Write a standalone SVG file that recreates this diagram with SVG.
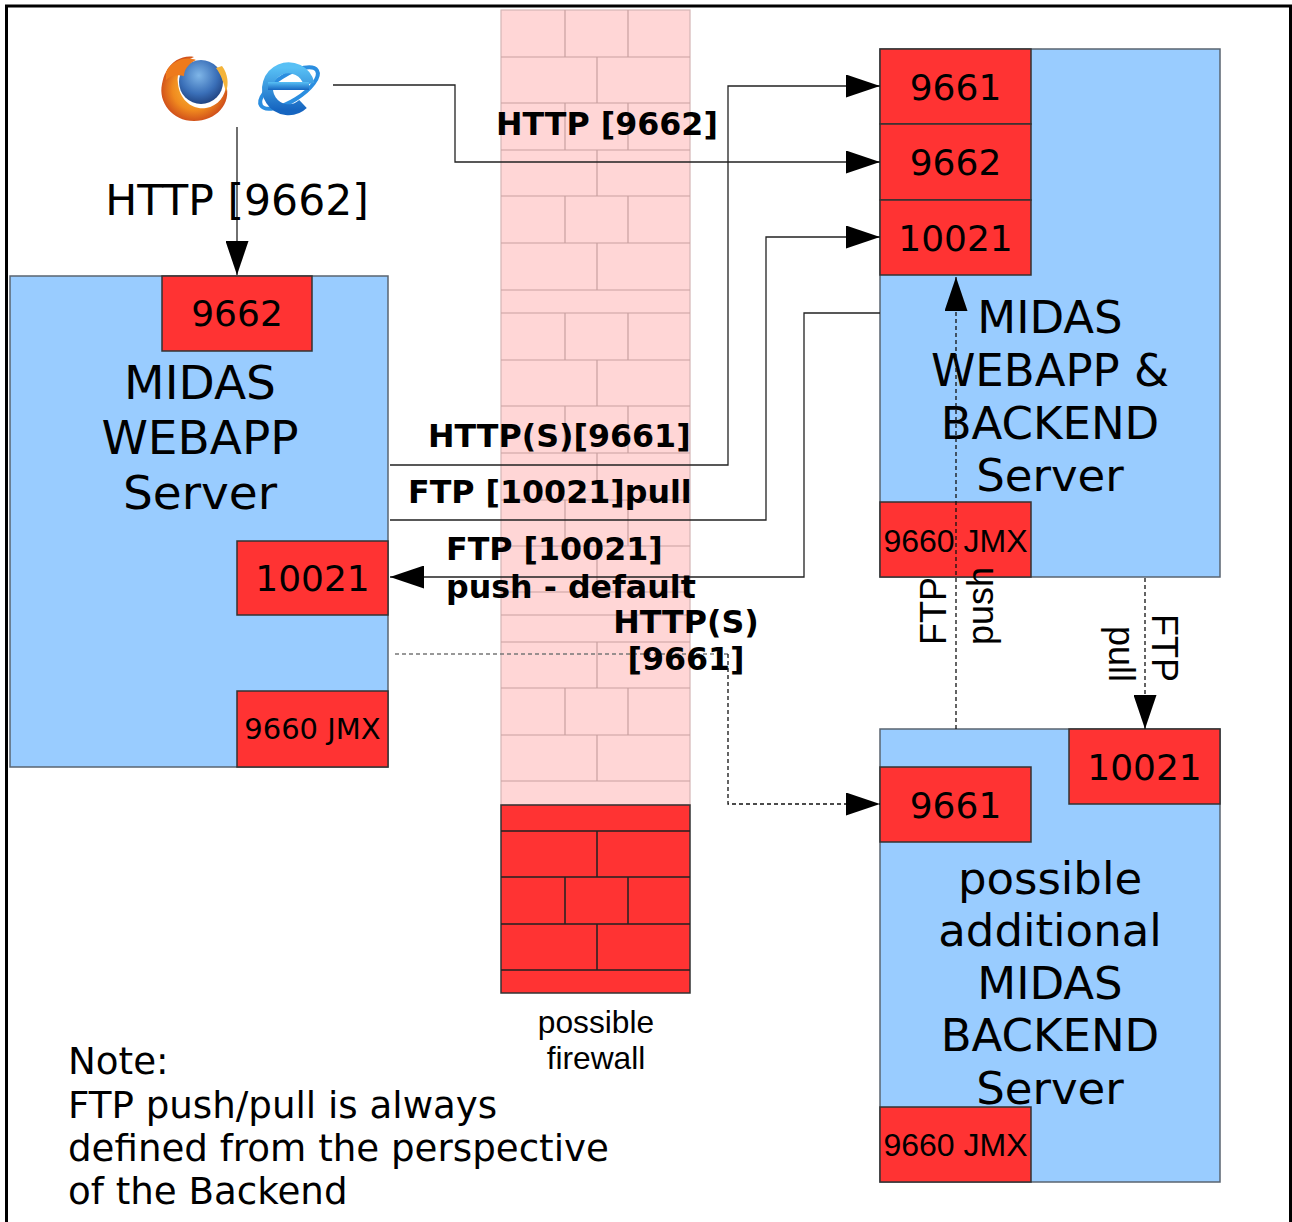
<svg xmlns="http://www.w3.org/2000/svg" width="1292" height="1222" viewBox="0 0 1292 1222">
  <defs>
    <marker id="arrow" markerUnits="userSpaceOnUse" markerWidth="34" markerHeight="23" refX="34" refY="11.5" orient="auto">
      <path d="M0,0 L34,11.5 L0,23 z" fill="#000"/>
    </marker>
    <radialGradient id="ffGlobe" cx="0.45" cy="0.35" r="0.7">
      <stop offset="0" stop-color="#7fb6e8"/>
      <stop offset="0.6" stop-color="#3a6fb8"/>
      <stop offset="1" stop-color="#1c3c78"/>
    </radialGradient>
    <radialGradient id="ffFox" cx="0.5" cy="0.5" r="0.55">
      <stop offset="0" stop-color="#f9c23c"/>
      <stop offset="0.6" stop-color="#f08a1f"/>
      <stop offset="1" stop-color="#c9431a"/>
    </radialGradient>
    <linearGradient id="ieBlue" x1="0" y1="0" x2="0" y2="1">
      <stop offset="0" stop-color="#58c0f5"/>
      <stop offset="1" stop-color="#1665c0"/>
    </linearGradient>
    <style>
      .frame { fill: none; stroke: #000; stroke-width: 3; }
      .server { fill: #99ccff; stroke: #5a6470; stroke-width: 1.5; }
      .port { fill: #ff3333; stroke: #333; stroke-width: 1.5; }
      .port-text { font-family: "DejaVu Sans", sans-serif; font-size: 36px; fill: #000; text-anchor: middle; }
      .jmx-l { font-family: "DejaVu Sans", sans-serif; font-size: 29px; fill: #000; text-anchor: middle; }
      .jmx-r { font-family: "Liberation Sans", Arial, sans-serif; font-size: 32px; fill: #000; text-anchor: middle; }
      .title-l { font-family: "DejaVu Sans", sans-serif; font-size: 47px; fill: #000; text-anchor: middle; }
      .title-r { font-family: "DejaVu Sans", sans-serif; font-size: 45px; fill: #000; text-anchor: middle; }
      .wall-soft { fill: #ffd6d6; stroke: #d4b4b4; stroke-width: 1.2; }
      .brick-soft { stroke: #c9a0a0; stroke-width: 1.2; fill: none; }
      .wall-hard { fill: #ff3333; stroke: #333; stroke-width: 1.5; }
      .brick-hard { stroke: #222; stroke-width: 1.5; fill: none; }
      .conn { fill: none; stroke: #222; stroke-width: 1.3; }
      .dash { fill: none; stroke: #111; stroke-width: 1.3; stroke-dasharray: 4 3; }
      .dash-grey { fill: none; stroke: #777; stroke-width: 1.3; stroke-dasharray: 4 3; }
      .lbl-bold { font-family: "DejaVu Sans", sans-serif; font-size: 31.7px; font-weight: bold; fill: #000; }
      .lbl { font-family: "DejaVu Sans", sans-serif; font-size: 42.5px; fill: #000; }
      .lbl-arial { font-family: "Liberation Sans", Arial, sans-serif; font-size: 36px; fill: #000; }
      .caption { font-family: "Liberation Sans", Arial, sans-serif; font-size: 31.7px; fill: #000; text-anchor: middle; }
      .note { font-family: "DejaVu Sans", sans-serif; font-size: 37.2px; fill: #000; }
    </style>
  </defs>

  <rect class="frame" x="6.5" y="6" width="1284" height="1240"/>

  <!-- firewall: faded upper part -->
  <g id="firewall">
    <rect class="wall-soft" x="501" y="10" width="189" height="795"/>
    <path class="brick-soft" d="M501,57H690 M501,103H690 M501,150H690 M501,196H690 M501,243H690 M501,290H690 M501,313H690 M501,360H690 M501,406H690 M501,453H690 M501,500H690 M501,546H690 M501,592H690 M501,615H690 M501,642H690 M501,688H690 M501,735H690 M501,781H690"/>
    <path class="brick-soft" d="M565,10V57 M628,10V57 M597,57V103 M565,103V150 M628,103V150 M597,150V196 M565,196V243 M628,196V243 M597,243V290 M565,313V360 M628,313V360 M597,360V406 M565,406V453 M628,406V453 M597,453V500 M565,500V546 M628,500V546 M597,546V592 M597,642V688 M565,688V735 M628,688V735 M597,735V781"/>
    <!-- solid lower part -->
    <rect class="wall-hard" x="501" y="805" width="189" height="188"/>
    <path class="brick-hard" d="M501,831H690 M501,877H690 M501,924H690 M501,970H690 M597,831V877 M565,877V924 M628,877V924 M597,924V970"/>
    <text class="caption" x="596" y="1033">possible</text>
    <text class="caption" x="596" y="1069">firewall</text>
  </g>

  <!-- browser icons -->
  <g id="browsers">
    <g id="firefox">
      <circle cx="201" cy="82" r="22" fill="url(#ffGlobe)"/>
      <path d="M166,72 C172,60 184,55 194,57 C182,62 176,72 178,84 C180,100 192,110 206,108 C218,106 226,96 226,84 C232,104 216,121 194,121 C172,121 158,102 162,84 C163,79 164,75 166,72 z" fill="url(#ffFox)"/>
      <path d="M166,72 C172,60 186,56 196,60 C188,64 184,70 184,76 C176,74 170,76 166,80 z" fill="#ee7a1c"/>
      <path d="M222,66 C228,74 229,84 226,92 C224,84 221,74 216,68 z" fill="#f4b43a"/>
    </g>
    <g id="ie">
      <ellipse cx="289" cy="88" rx="33" ry="13" fill="none" stroke="#2b8ee0" stroke-width="4" transform="rotate(-32 289 88)"/>
      <path d="M309,84 A21,21 0 1 0 303,104" fill="none" stroke="url(#ieBlue)" stroke-width="11"/>
      <rect x="268" y="82" width="41" height="8" fill="url(#ieBlue)"/>
    </g>
  </g>

  <!-- left server -->
  <g id="webapp">
    <rect class="server" x="10" y="276" width="378" height="491"/>
    <rect class="port" x="162" y="276" width="150" height="75"/>
    <text class="port-text" x="237" y="326">9662</text>
    <rect class="port" x="237" y="541" width="151" height="74"/>
    <text class="port-text" x="312.5" y="591">10021</text>
    <rect class="port" x="237" y="691" width="151" height="76"/>
    <text class="jmx-l" x="312.5" y="739">9660 JMX</text>
    <text class="title-l" x="200" y="399">MIDAS</text>
    <text class="title-l" x="200" y="454">WEBAPP</text>
    <text class="title-l" x="200" y="509">Server</text>
  </g>

  <!-- top right server -->
  <g id="webapp-backend">
    <rect class="server" x="880" y="49" width="340" height="528"/>
    <rect class="port" x="880" y="49" width="151" height="75"/>
    <text class="port-text" x="955.5" y="99.5">9661</text>
    <rect class="port" x="880" y="124" width="151" height="76"/>
    <text class="port-text" x="955.5" y="175">9662</text>
    <rect class="port" x="880" y="200" width="151" height="75"/>
    <text class="port-text" x="955.5" y="250.5">10021</text>
    <rect class="port" x="880" y="502" width="151" height="75"/>
    <text class="jmx-r" x="955.5" y="551.5">9660 JMX</text>
    <text class="title-r" x="1050" y="333">MIDAS</text>
    <text class="title-r" x="1050" y="386">WEBAPP &amp;</text>
    <text class="title-r" x="1050" y="438.5">BACKEND</text>
    <text class="title-r" x="1050" y="491">Server</text>
  </g>

  <!-- bottom right server -->
  <g id="backend">
    <rect class="server" x="880" y="729" width="340" height="453"/>
    <rect class="port" x="1069" y="729" width="151" height="75"/>
    <text class="port-text" x="1144.5" y="779.5">10021</text>
    <rect class="port" x="880" y="767" width="151" height="75"/>
    <text class="port-text" x="955.5" y="817.5">9661</text>
    <rect class="port" x="880" y="1107" width="151" height="75"/>
    <text class="jmx-r" x="955.5" y="1156">9660 JMX</text>
    <text class="title-r" x="1050" y="893.5">possible</text>
    <text class="title-r" x="1050" y="946">additional</text>
    <text class="title-r" x="1050" y="998.5">MIDAS</text>
    <text class="title-r" x="1050" y="1051">BACKEND</text>
    <text class="title-r" x="1050" y="1103.5">Server</text>
  </g>

  <!-- connectors -->
  <g id="connectors">
    <path class="conn" d="M237,127 V275" marker-end="url(#arrow)"/>
    <path class="conn" d="M333,85 H455 V162 H880" marker-end="url(#arrow)"/>
    <path class="conn" d="M390,465 H728 V86 H880" marker-end="url(#arrow)"/>
    <path class="conn" d="M390,520 H766 V237 H880" marker-end="url(#arrow)"/>
    <path class="conn" d="M880,313 H804 V577 H390" marker-end="url(#arrow)"/>
    <path class="dash-grey" d="M395,654 H728"/>
    <path class="dash" d="M728,654 V804 H880" marker-end="url(#arrow)"/>
    <path class="dash" d="M956,729 V277" marker-end="url(#arrow)"/>
    <path class="dash" d="M1145,578 V729" marker-end="url(#arrow)"/>

    <text class="lbl" x="237" y="215" text-anchor="middle">HTTP [9662]</text>
    <text class="lbl-bold" x="496" y="135">HTTP [9662]</text>
    <text class="lbl-bold" x="428" y="447">HTTP(S)[9661]</text>
    <text class="lbl-bold" x="408" y="503">FTP [10021]pull</text>
    <text class="lbl-bold" x="446" y="560">FTP [10021]</text>
    <text class="lbl-bold" x="446" y="598">push - default</text>
    <text class="lbl-bold" x="686" y="633" text-anchor="middle">HTTP(S)</text>
    <text class="lbl-bold" x="686" y="670" text-anchor="middle">[9661]</text>
    <text class="lbl-arial" transform="translate(946,645) rotate(-90)">FTP</text>
    <text class="lbl-arial" transform="translate(993,645) rotate(-90)">push</text>
    <text class="lbl-arial" text-anchor="end" transform="translate(1152,682) rotate(90)">FTP</text>
    <text class="lbl-arial" text-anchor="end" transform="translate(1109,682) rotate(90)">pull</text>
  </g>

  <!-- note -->
  <g id="note">
    <text class="note" x="68" y="1074">Note:</text>
    <text class="note" x="68" y="1118">FTP push/pull is always</text>
    <text class="note" x="68" y="1161">defined from the perspective</text>
    <text class="note" x="68" y="1204">of the Backend</text>
  </g>
</svg>
